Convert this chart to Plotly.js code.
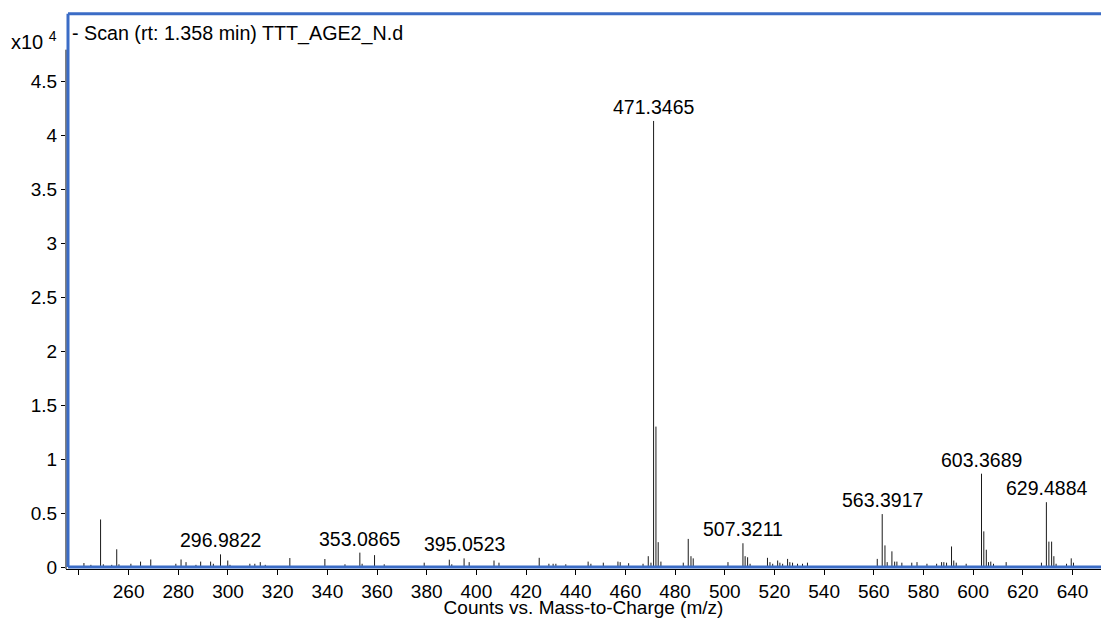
<!DOCTYPE html>
<html>
<head>
<meta charset="utf-8">
<script src="https://cdn.plot.ly/plotly-3.0.1.min.js"></script>
<style>
  html, body { margin: 0; padding: 0; background: #ffffff; }
  #chart { width: 1101px; height: 618px; }
</style>
</head>
<body>
<div id="chart"></div>
<script>
// Centroided spectrum: m/z of each peak and its abundance (counts x 10^4)
const mz = [
  242.0, 244.8, 248.7, 249.8, 253.2, 255.2, 256.1, 260.9, 264.8, 268.9,
  279.0, 281.1, 283.1, 287.1, 289.0, 293.0, 294.1, 296.9822, 299.9, 300.8,
  308.8, 310.8, 313.0, 315.0, 324.9, 339.0, 347.1, 353.0865, 354.0, 359.0,
  362.9, 379.0, 389.1, 390.1, 395.0523, 397.1, 407.1, 409.1, 425.3, 429.2,
  430.9, 432.0, 436.0, 445.0, 446.1, 451.1, 457.0, 457.9, 461.3, 467.1,
  469.2, 470.3, 471.3465, 472.3, 473.2, 474.3, 483.3, 485.3, 486.4, 487.3,
  501.3, 507.3211, 508.2, 509.2, 510.2, 517.2, 518.2, 519.3, 521.3, 522.2,
  523.3, 525.3, 526.2, 527.3, 529.3, 531.3, 533.3, 561.4, 563.3917, 564.5,
  565.4, 567.3, 568.4, 569.3, 571.3, 575.3, 577.4, 581.4, 585.3, 587.3,
  588.2, 589.3, 591.3, 592.2, 593.2, 597.2, 603.3689, 604.3, 605.3, 606.2,
  607.1, 608.2, 613.3, 627.5, 629.4884, 630.5, 631.6, 632.5, 633.4, 637.6,
  639.5, 640.4
];
const intensity = [
  0.037, 0.020, 0.440, 0.025, 0.020, 0.164, 0.025, 0.030, 0.050, 0.070,
  0.030, 0.070, 0.045, 0.020, 0.050, 0.050, 0.030, 0.117, 0.060, 0.020,
  0.030, 0.030, 0.045, 0.020, 0.083, 0.074, 0.025, 0.133, 0.030, 0.110,
  0.025, 0.040, 0.068, 0.025, 0.080, 0.045, 0.060, 0.040, 0.085, 0.030,
  0.030, 0.030, 0.025, 0.050, 0.030, 0.040, 0.050, 0.045, 0.035, 0.030,
  0.100, 0.040, 4.130, 1.300, 0.230, 0.050, 0.040, 0.260, 0.100, 0.080,
  0.045, 0.220, 0.100, 0.090, 0.030, 0.085, 0.045, 0.030, 0.060, 0.040,
  0.030, 0.075, 0.045, 0.040, 0.030, 0.030, 0.040, 0.075, 0.490, 0.200,
  0.045, 0.145, 0.050, 0.050, 0.040, 0.040, 0.045, 0.030, 0.030, 0.045,
  0.045, 0.040, 0.190, 0.060, 0.040, 0.030, 0.864, 0.330, 0.160, 0.045,
  0.050, 0.030, 0.045, 0.040, 0.600, 0.235, 0.235, 0.100, 0.030, 0.030,
  0.080, 0.040
];
// Peaks annotated with their accurate mass
const labeledMz = [296.9822, 353.0865, 395.0523, 471.3465, 507.3211, 563.3917, 603.3689, 629.4884];

// Axis ticks (240 carries a tick mark but no label)
const xTickVals = [260, 280, 300, 320, 340, 360, 380, 400, 420, 440, 460, 480, 500, 520, 540, 560, 580, 600, 620, 640];
const xTickText = ['260', '280', '300', '320', '340', '360', '380', '400', '420', '440', '460', '480', '500', '520', '540', '560', '580', '600', '620', '640'];
const xBareTicks = [240];
const yTickVals = [0, 0.5, 1, 1.5, 2, 2.5, 3, 3.5, 4, 4.5];
const yTickText = ['0', '0.5', '1', '1.5', '2', '2.5', '3', '3.5', '4', '4.5'];

const titleText = '- Scan (rt: 1.358 min) TTT_AGE2_N.d';
const xTitleText = 'Counts vs. Mass-to-Charge (m/z)';
const yScaleText = 'x10 <sup>4</sup>';

// Each peak is a vertical stick from the baseline
const stickX = [], stickY = [];
mz.forEach((m, i) => {
  stickX.push(m, m, null);
  stickY.push(0, intensity[i], null);
});

const FONT = 'Liberation Sans, Arial, Helvetica, sans-serif';
const BLUE = '#3b6cc6';

const W = 1101, H = 618;
const M = { l: 66, r: 0, t: 13, b: 49 };
const plotW = W - M.l - M.r;
const plotH = H - M.t - M.b;
const px2x = p => p / plotW;       // horizontal pixels -> paper units
const px2y = p => p / plotH;       // vertical pixels -> paper units

const peakLabels = labeledMz.map(m => ({
  x: m,
  y: intensity[mz.indexOf(m)],
  xref: 'x', yref: 'y',
  text: m.toFixed(4),
  showarrow: false,
  xanchor: 'center', yanchor: 'bottom',
  yshift: 1,
  font: { family: FONT, size: 19.5, color: '#000' }
}));

const layout = {
  width: W, height: H,
  margin: M,
  paper_bgcolor: '#ffffff',
  plot_bgcolor: '#ffffff',
  showlegend: false,
  font: { family: FONT, size: 19, color: '#000' },
  title: {
    text: titleText,
    xref: 'container', yref: 'container',
    x: 72 / W, xanchor: 'left',
    y: 1 - 33 / H, yanchor: 'middle',
    font: { family: FONT, size: 19.7, color: '#000' }
  },
  xaxis: {
    range: [234.78, 651.48],
    tickmode: 'array', tickvals: xTickVals, ticktext: xTickText,
    ticks: 'outside', ticklen: 5, tickwidth: 1, tickcolor: '#000',
    minor: { tickmode: 'array', tickvals: xBareTicks, ticks: 'outside', ticklen: 5, tickwidth: 1, tickcolor: '#000', showgrid: false },
    showline: true, linecolor: '#000', linewidth: 1,
    showgrid: false, zeroline: false,
    tickfont: { family: FONT, size: 19, color: '#000' },
    title: { text: xTitleText, standoff: 0, font: { family: FONT, size: 19, color: '#000' } },
    automargin: false
  },
  yaxis: {
    range: [-2 / 108, 554 / 108],
    tickmode: 'array', tickvals: yTickVals, ticktext: yTickText,
    ticks: 'outside', ticklen: 4, tickwidth: 1, tickcolor: '#000',
    showline: false, showgrid: false, zeroline: false,
    tickfont: { family: FONT, size: 19, color: '#000' },
    automargin: false
  },
  annotations: peakLabels.concat([{
    xref: 'paper', yref: 'paper',
    x: px2x(9 - M.l), xanchor: 'left',
    y: 1 - px2y(40 - M.t), yanchor: 'middle',
    text: yScaleText, showarrow: false,
    font: { family: FONT, size: 20, color: '#000' }
  }]),
  shapes: [
    // vertical axis line
    { type: 'line', xref: 'paper', yref: 'y', x0: 0, x1: 0, y0: -2 / 108, y1: 4.79,
      line: { color: '#000', width: 1 } },
    // blue spectrum frame: top, left, bottom
    { type: 'line', xref: 'paper', yref: 'paper', x0: px2x(2), x1: 1.02, y0: 1 - px2y(0.8), y1: 1 - px2y(0.8),
      line: { color: BLUE, width: 3 } },
    { type: 'line', xref: 'paper', yref: 'paper', x0: px2x(2), x1: px2x(2), y0: px2y(2), y1: 1 - px2y(0.8),
      line: { color: BLUE, width: 3 } },
    { type: 'line', xref: 'paper', yref: 'paper', x0: px2x(2), x1: 1.02, y0: px2y(2), y1: px2y(2),
      line: { color: BLUE, width: 3 } }
  ]
};

const trace = {
  type: 'scatter',
  mode: 'lines',
  x: stickX,
  y: stickY,
  connectgaps: false,
  line: { color: '#1a1a1a', width: 1 },
  hoverinfo: 'skip'
};

Plotly.newPlot('chart', [trace], layout, { staticPlot: true, displayModeBar: false });
</script>
</body>
</html>
